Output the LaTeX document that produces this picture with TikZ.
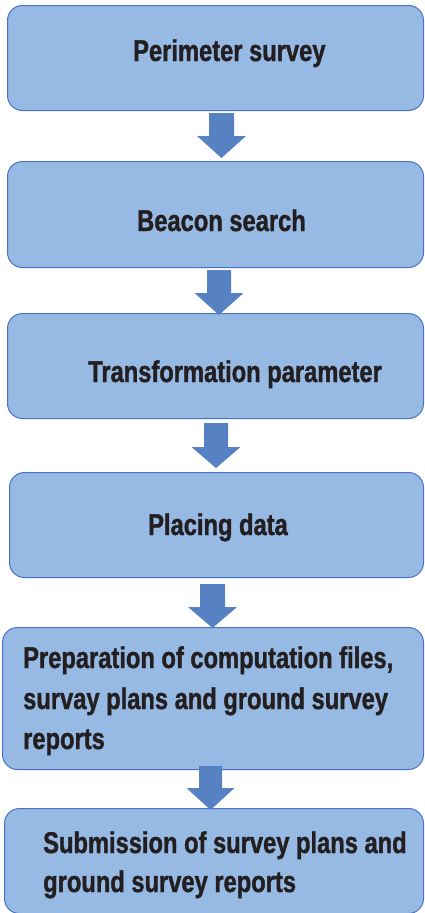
\documentclass[tikz,border=0pt]{standalone}
\usepackage{fontspec}
\newfontfamily\boxfont{Liberation Sans Bold}[FakeStretch=0.79, FakeBold=1.2]
\definecolor{boxfill}{RGB}{151,186,228}
\definecolor{boxline}{RGB}{72,114,196}
\definecolor{arrowfill}{RGB}{86,130,196}
\definecolor{txt}{RGB}{35,31,32}
\tikzset{
  flowbox/.style={draw=boxline, fill=boxfill, line width=1pt, rounded corners=15pt,
    inner sep=0pt, anchor=north west},
  lbl/.style={font=\fontsize{30}{39}\selectfont\boxfont, text=txt, inner sep=0pt, anchor=base west},
  blockarrow/.style={fill=arrowfill, draw=none}
}
% #1 x centre, #2 shaft top, #3 head top, #4 tip, #5 shaft half width, #6 head half width
\newcommand{\bigdownarrow}[6]{%
  \fill[blockarrow] (#1-#5,#2) -- (#1+#5,#2) -- (#1+#5,#3) -- (#1+#6,#3) -- (#1,#4)
    -- (#1-#6,#3) -- (#1-#5,#3) -- cycle;}
\begin{document}
\begin{tikzpicture}[x=1pt,y=-1pt]
\useasboundingbox (0,0) rectangle (424,913);
% boxes
\node[flowbox, minimum width=416pt, minimum height=105pt] (b1) at (7,5) {};
\node[flowbox, minimum width=416pt, minimum height=106pt] (b2) at (7,161) {};
\node[flowbox, minimum width=416pt, minimum height=105pt] (b3) at (7,313) {};
\node[flowbox, minimum width=414pt, minimum height=105pt] (b4) at (9,472) {};
\node[flowbox, minimum width=421pt, minimum height=142pt] (b5) at (2,627) {};
\node[flowbox, minimum width=419pt, minimum height=105pt] (b6) at (4,808) {};
% texts
\node[lbl] (t1) at (133,61) {Perimeter survey};
\node[lbl] (t2) at (137,231) {Beacon search};
\node[lbl] (t3) at (88,382) {Transformation parameter};
\node[lbl] (t4) at (148,535) {Placing data};
\node[lbl] (t5a) at (23,668) {Preparation of computation files,};
\node[lbl] (t5b) at (23,709) {survay plans and ground survey};
\node[lbl] (t5c) at (23,749) {reports};
\node[lbl] (t6a) at (43,853) {Submission of survey plans and};
\node[lbl] (t6b) at (43,892) {ground survey reports};
% arrows
\bigdownarrow{221.5}{113}{136}{158}{12.5}{24.5}
\bigdownarrow{219}{270}{293}{315}{12}{24.5}
\bigdownarrow{216}{423}{447}{468}{12}{24.5}
\bigdownarrow{212.5}{584}{607}{628}{12.5}{24.5}
\bigdownarrow{210.5}{766}{788}{810}{11.5}{24}
\end{tikzpicture}
\end{document}
